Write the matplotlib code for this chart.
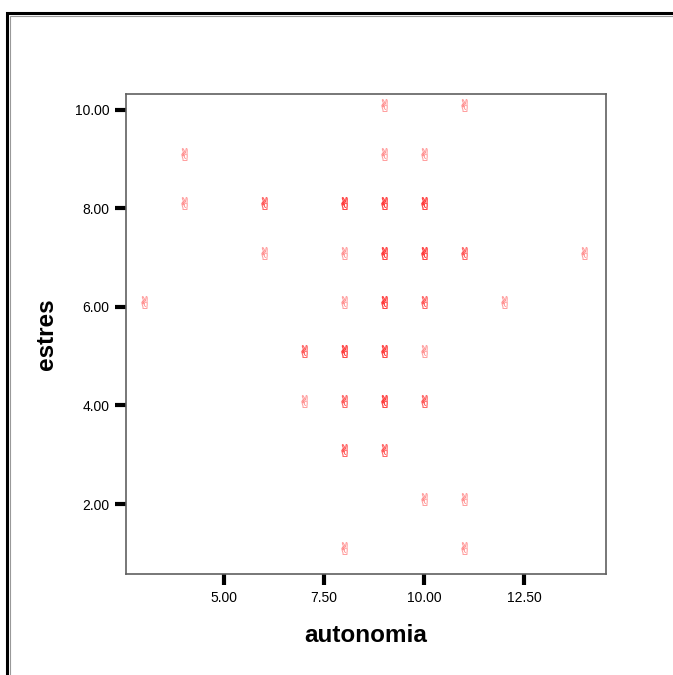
import matplotlib
matplotlib.use("Agg")
import matplotlib.pyplot as plt
from matplotlib.patches import Rectangle

plt.rcParams['font.family'] = ['Liberation Sans', 'DejaVu Sans']

autonomia = [9, 11,
             4, 9, 10,
             4, 6, 8, 9, 10,
             6, 8, 9, 10, 11, 14,
             3, 8, 9, 10, 12,
             7, 8, 9, 10,
             7, 8, 9, 10,
             8, 9,
             10, 11,
             8, 11]
estres = [10, 10,
          9, 9, 9,
          8, 8, 8, 8, 8,
          7, 7, 7, 7, 7, 7,
          6, 6, 6, 6, 6,
          5, 5, 5, 5,
          4, 4, 4, 4,
          3, 3,
          2, 2,
          1, 1]
casos = [1, 1,
         1, 1, 1,
         1, 2, 3, 3, 3,
         1, 1, 3, 3, 2, 1,
         1, 1, 3, 2, 1,
         2, 3, 3, 1,
         1, 2, 3, 2,
         2, 2,
         1, 1,
         1, 1]

xticks = [5.0, 7.5, 10.0, 12.5]
yticks = [2.0, 4.0, 6.0, 8.0, 10.0]

fig = plt.figure(figsize=(6.73, 6.75), dpi=100)
W, H = 673, 675

# outer chart frame (double line like the SPSS output)
fig.patches.append(Rectangle((7 / W, -0.1), 1.2, 1 - 13 / H + 0.1, transform=fig.transFigure,
                             fill=False, edgecolor='black', linewidth=2.2))
fig.patches.append(Rectangle((9.5 / W, -0.1), 1.2, 1 - 15.5 / H + 0.1, transform=fig.transFigure,
                             fill=False, edgecolor='#999999', linewidth=0.8))

ax = fig.add_axes([126 / W, 1 - 574 / H, (606 - 126) / W, (574 - 94) / H])

for x, y, n in zip(autonomia, estres, casos):
    for k in range(n):
        ax.scatter([x], [y + 0.1], marker='$\u270c$', s=80, color='#ff1818',
                   edgecolors='#ff1818', alpha=0.38, linewidths=0.25)

ax.set_xlim(2.55, 14.55)
ax.set_ylim(0.58, 10.32)
ax.set_xticks(xticks)
ax.set_yticks(yticks)
ax.set_xticklabels(['%.2f' % v for v in xticks], fontsize=10)
ax.set_yticklabels(['%.2f' % v for v in yticks], fontsize=10)
ax.tick_params(direction='out', length=8, width=3, color='black', pad=4)

for sp in ax.spines.values():
    sp.set_color('#606060')
    sp.set_linewidth(1.2)

ax.set_xlabel('autonomia', fontsize=17.5, fontweight='bold', labelpad=14)
ax.set_ylabel('estres', fontsize=17.5, fontweight='bold', labelpad=12)

fig.savefig('out.png', dpi=100)
